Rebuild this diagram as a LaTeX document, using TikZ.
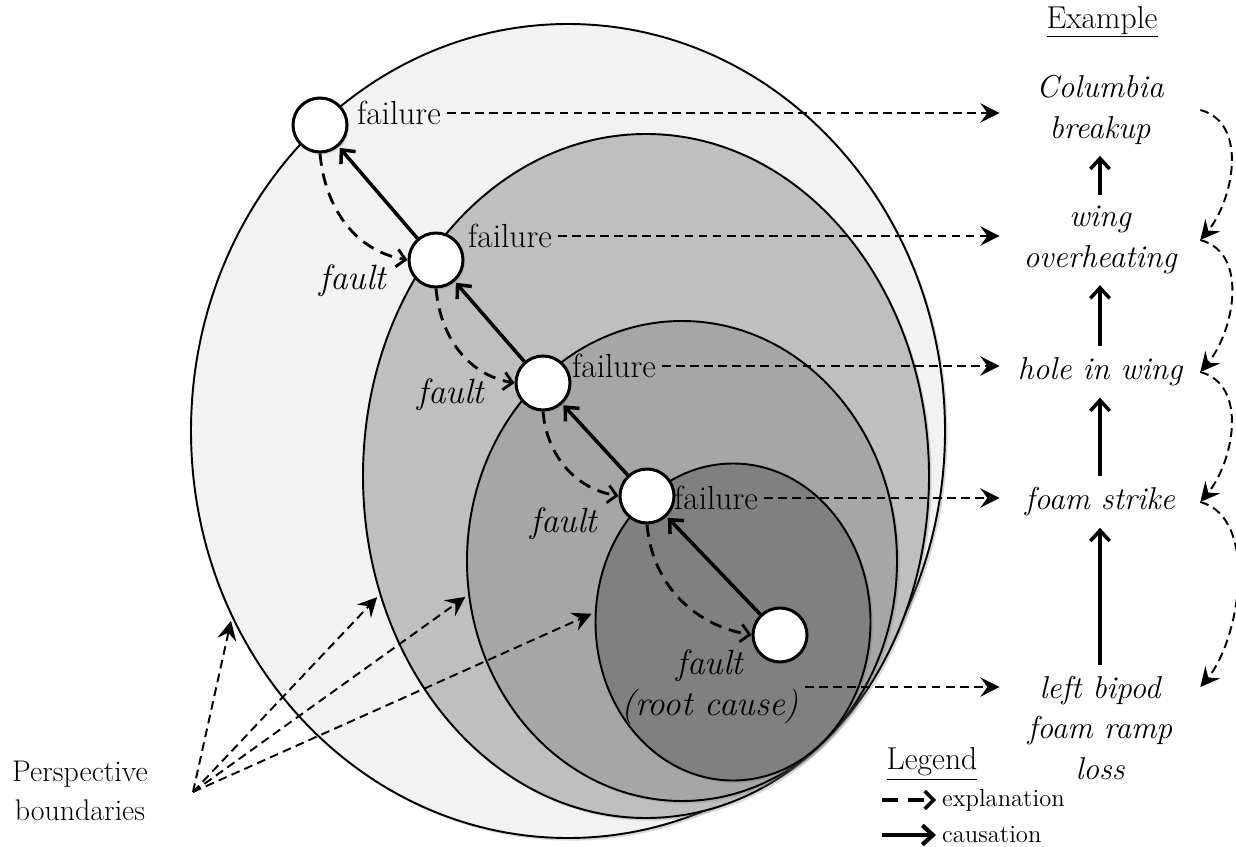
\documentclass[tikz,border=0pt]{standalone}
\usepackage{fontspec}
\usetikzlibrary{arrows.meta,shapes.geometric,shadows}

\definecolor{ringa}{HTML}{F2F2F2}
\definecolor{ringb}{HTML}{BFBFBF}
\definecolor{ringc}{HTML}{A6A6A6}
\definecolor{ringd}{HTML}{808080}

\newcommand{\bigtxt}{\fontsize{18}{23}\selectfont}
\newcommand{\failfont}{\fontsize{19}{23}\selectfont}
\newcommand{\faulttxt}{\fontsize{20}{23}\selectfont\itshape}
\newcommand{\smalltxt}{\fontsize{14}{17}\selectfont}

\tikzset{
  boundary/.style 2 args={ellipse, draw, line width=1.1pt, inner sep=0pt,
    minimum width=#1*0.02cm, minimum height=#2*0.02cm,
    drop shadow={shadow xshift=1.5pt, shadow yshift=-1.5pt, opacity=0.3}},
  event/.style={circle, draw, fill=white, line width=1.7pt, inner sep=0pt,
    minimum size=1.08cm,
    drop shadow={shadow xshift=1pt, shadow yshift=-1.5pt, opacity=0.3}},
  failtxt/.style={font=\failfont, anchor=west},
  faultlbl/.style={font=\faulttxt, align=center},
  extxt/.style={font=\bigtxt\itshape, align=center, minimum width=4cm},
  cause/.style={line width=2pt, -{Straight Barb[length=6pt,width=11pt]}},
  expl/.style={line width=1.6pt, dash pattern=on 7pt off 4.5pt,
    -{Straight Barb[length=5pt,width=10pt]}},
  link/.style={line width=1.1pt, dash pattern=on 5pt off 3pt,
    -{Stealth[length=11pt,width=11pt,inset=4pt]}}
}

\begin{document}
\begin{tikzpicture}[x=0.02cm,y=-0.02cm]
\useasboundingbox (0,0) rectangle (1236,847);

% perspective boundaries
\node[boundary={754}{814}, fill=ringa] (b1) at (568,431) {};
\node[boundary={566}{684}, fill=ringb] (b2) at (646,476) {};
\node[boundary={430}{480}, fill=ringc] (b3) at (682,561) {};
\node[boundary={275}{317}, fill=ringd] (b4) at (733,622) {};

% chain of events
\node[event] (c1) at (320,125) {};
\node[event] (c2) at (436,260) {};
\node[event] (c3) at (543,383) {};
\node[event] (c4) at (647,496) {};
\node[event] (c5) at (780,635) {};

\node[failtxt] (f1) at (351,113) {failure};
\node[failtxt] (f2) at (462,236) {failure};
\node[failtxt] (f3) at (566,366) {failure};
\node[failtxt] (f4) at (668,498) {failure};

\node[faultlbl] (flt2) at (353,281) {fault};
\node[faultlbl] (flt3) at (451,395) {fault};
\node[faultlbl] (flt4) at (564,524) {fault};
\node[faultlbl] (flt5) at (710,687) {fault\\(root cause)};

\foreach \a/\b in {c2/c1,c3/c2,c4/c3,c5/c4}
  \draw[cause, shorten >=1pt] (\a) -- (\b);
\foreach \a/\b in {c1/c2,c2/c3,c3/c4,c4/c5}
  \draw[expl] (\a.south) to[out=-85,in=170] (\b.west);

% example column
\node (exhead) at (1102,22) {\bigtxt\underline{Example}};
\node[extxt] (col) at (1100,110) {Columbia\\breakup};
\node[extxt] (wo) at (1100,240) {wing\\overheating};
\node[extxt] (hiw) at (1100,372) {hole in wing};
\node[extxt] (fs) at (1100,502) {foam strike};
\node[extxt] (lbp) at (1100,728) {left bipod\\foam ramp\\loss};

\foreach \a/\b in {wo/col,hiw/wo,fs/hiw,lbp/fs}
  \draw[cause, shorten >=3pt, shorten <=3pt] (\a) -- (\b);

\foreach \f/\e in {f1/col,f2/wo,f3/hiw,f4/fs,flt5/lbp}
  \draw[link] (\f.east) -- (\f.east -| \e.west);

\foreach \a/\b in {col/wo,wo/hiw,hiw/fs}
  \draw[link] (\a.east) to[out=-15,in=50] (\b.east);
\draw[link] (fs.east) to[out=-15,in=50,looseness=0.85] (lbp.east |- flt5.east);

% pointers to the boundaries
\node[font=\fontsize{17}{22}\selectfont, align=center] (pers) at (80,791) {Perspective\\boundaries};
\coordinate (pb) at (193,792);
\foreach \b/\ang in {b1/209,b2/204,b3/189,b4/176}
  \draw[link, shorten >=2pt] (pb) -- (\b.\ang);

% legend
\node (lghead) at (932,764) {\bigtxt\underline{Legend}};
\coordinate (lg1) at (882,800);
\coordinate (lg2) at (882,835);
\node[font=\smalltxt, anchor=west] (lgexp) at (936,800) {explanation};
\node[font=\smalltxt, anchor=west] (lgcau) at (936,835) {causation};
\draw[expl, line width=2pt, dash pattern=on 9pt off 6pt] (lg1) -- (lgexp.west);
\draw[cause, line width=2.4pt] (lg2) -- (lgcau.west);
\end{tikzpicture}
\end{document}
